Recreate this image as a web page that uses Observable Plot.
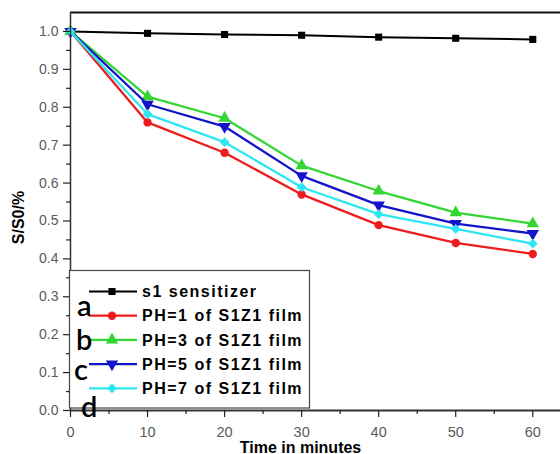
<!DOCTYPE html>
<html><head><meta charset="utf-8">
<script src="https://cdn.jsdelivr.net/npm/d3@7"></script>
<script src="https://cdn.jsdelivr.net/npm/@observablehq/plot@0.6"></script>
<style>
body{margin:0;background:#fff;}
#wrap{position:relative;width:560px;height:454px;overflow:hidden;background:#fff;}
#wrap > svg{position:absolute;left:0;top:0;}
</style></head><body><div id="wrap"></div>
<script>
// ---- data ----
const times = [0, 10, 20, 30, 40, 50, 60];
const s1Sensitizer = [1.0, 0.995, 0.992, 0.99, 0.985, 0.982, 0.979];
const ph1 = [1.0, 0.76, 0.68, 0.570, 0.489, 0.442, 0.413];
const ph3 = [1.0, 0.828, 0.771, 0.646, 0.579, 0.522, 0.493];
const ph5 = [1.0, 0.808, 0.749, 0.619, 0.542, 0.493, 0.467];
const ph7 = [1.0, 0.782, 0.708, 0.589, 0.518, 0.479, 0.440];
const seriesNames = ["s1 sensitizer", "PH=1 of S1Z1 film", "PH=3 of S1Z1 film", "PH=5 of S1Z1 film", "PH=7 of S1Z1 film"];
const seriesValues = [s1Sensitizer, ph1, ph3, ph5, ph7];
const seriesColors = ["#000000", "#ee1d1d", "#33d633", "#1414c8", "#2de6f2"];
const curveLetters = ["a", "b", "c", "d"];
const xTicks = [0, 10, 20, 30, 40, 50, 60];
const xMinorTicks = [5, 15, 25, 35, 45, 55];
const yTicks = [0, 0.1, 0.2, 0.3, 0.4, 0.5, 0.6, 0.7, 0.8, 0.9, 1.0];
const yMinorTicks = [0.05, 0.15, 0.25, 0.35, 0.45, 0.55, 0.65, 0.75, 0.85, 0.95];
const xLabel = "Time in minutes";
const yLabel = "S/S0/%";

// inverted triangle symbol
const triangleDown = {
  draw(context, size) {
    const sqrt3 = Math.sqrt(3);
    const y = -Math.sqrt(size / (sqrt3 * 3));
    context.moveTo(0, -y * 2);
    context.lineTo(-sqrt3 * y, y);
    context.lineTo(sqrt3 * y, y);
    context.closePath();
  }
};
const seriesSymbols = ["square", "circle", "triangle", triangleDown, "diamond2"];
const seriesR = [4, 4.2, 4.6, 4.6, 4.4];

const FONT = "'Liberation Sans', Arial, sans-serif";

const marks = [];
seriesNames.forEach((name, i) => {
  const rows = times.map((t, j) => ({t, v: seriesValues[i][j]}));
  marks.push(Plot.line(rows, {x: "t", y: "v", stroke: seriesColors[i], strokeWidth: i === 0 ? 2 : 2.3}));
  marks.push(Plot.dot(rows, {x: "t", y: "v", fill: seriesColors[i], stroke: "none", symbol: seriesSymbols[i], r: seriesR[i]}));
});

const chart = Plot.plot({
  width: 560,
  height: 454,
  marginLeft: 70,
  marginRight: 0,
  marginTop: 12,
  marginBottom: 44,
  style: {fontFamily: FONT, background: "transparent", overflow: "visible"},
  x: {domain: [0, 63.6], axis: null},
  y: {domain: [0, 1.05], axis: null},
  marks: [
    ...marks,
    Plot.ruleY([1.05], {stroke: "#111", strokeWidth: 2}),
    Plot.ruleX([0], {stroke: "#333", strokeWidth: 1.5}),
    Plot.ruleY([0], {stroke: "#333", strokeWidth: 2}),
    Plot.axisY({ticks: yTicks, tickSize: 7, tickPadding: 5, tickFormat: d3.format(".1f"), fontSize: 14, stroke: "#222", fill: "#5a5a5a", strokeWidth: 1.2, label: null}),
    Plot.axisY({ticks: yMinorTicks, tickSize: 4, tickFormat: () => "", stroke: "#222", strokeWidth: 1.2, label: null}),
    Plot.axisX({ticks: xTicks, tickSize: 7, tickPadding: 9, tickFormat: d3.format("d"), fontSize: 14.5, stroke: "#222", fill: "#5a5a5a", strokeWidth: 1.2, label: null}),
    Plot.axisX({ticks: xMinorTicks, tickSize: 4, tickFormat: () => "", stroke: "#222", strokeWidth: 1.2, label: null}),
    Plot.text([xLabel], {frameAnchor: "bottom", textAnchor: "middle", dx: -15, dy: 42, fontSize: 16, fontWeight: "bold", fill: "#000", letterSpacing: "0.4px"}),
    Plot.text([yLabel], {frameAnchor: "left", textAnchor: "middle", rotate: -90, dx: -52, dy: 6, fontSize: 16, fontWeight: "bold", fill: "#000"})
  ]
});
document.getElementById("wrap").appendChild(chart);

// ---- legend overlay ----
const lg = d3.select("#wrap").append("svg").attr("width", 560).attr("height", 454).style("pointer-events", "none");
lg.append("rect").attr("x", 69.5).attr("y", 270.5).attr("width", 240).attr("height", 137.5)
  .attr("fill", "#fff").attr("stroke", "#444").attr("stroke-width", 1.2);
const rowY = i => 291.5 + i * 24.2;
seriesNames.forEach((name, i) => {
  const y = rowY(i);
  lg.append("line").attr("x1", 89).attr("x2", 137).attr("y1", y).attr("y2", y)
    .attr("stroke", seriesColors[i]).attr("stroke-width", i === 0 ? 2 : 2.3);
  const sym = typeof seriesSymbols[i] === "string"
    ? {square: d3.symbolSquare, circle: d3.symbolCircle, triangle: d3.symbolTriangle, diamond2: d3.symbolDiamond2}[seriesSymbols[i]]
    : seriesSymbols[i];
  lg.append("path").attr("d", d3.symbol(sym, Math.PI * seriesR[i] * seriesR[i])())
    .attr("transform", `translate(112,${y})`).attr("fill", seriesColors[i]);
  lg.append("text").attr("x", 142).attr("y", y).attr("dy", "0.36em")
    .attr("font-family", FONT).attr("font-weight", "bold").attr("font-size", 16)
    .attr("letter-spacing", "1.5px").attr("fill", "#000")
    .text(name);
});
const letterPos = [[77, 316], [76, 350], [74, 380], [81, 417]];
curveLetters.forEach((c, i) => {
  lg.append("text").attr("x", letterPos[i][0]).attr("y", letterPos[i][1])
    .attr("font-family", "Lato, 'Open Sans', sans-serif").attr("font-size", 29).attr("font-weight", 600).attr("fill", "#000")
    .text(c);
});
</script></body></html>
